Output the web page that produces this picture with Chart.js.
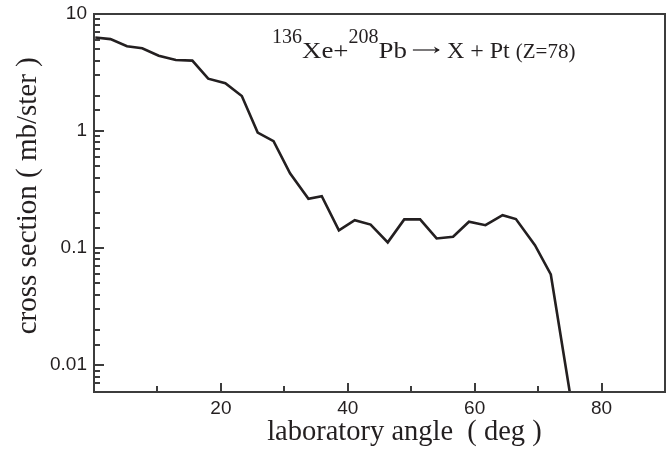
<!DOCTYPE html>
<html>
<head>
<meta charset="utf-8">
<script src="https://cdn.jsdelivr.net/npm/chart.js@4.4.1/dist/chart.umd.min.js"></script>
<style>
  html, body { margin: 0; padding: 0; background: #fff; }
  #wrap { width: 669px; height: 451px; position: relative; }
</style>
</head>
<body>
<div id="wrap"><canvas id="chart"></canvas></div>
<script>
// laboratory angle (deg)
const angles = [0.2, 2.6, 5.2, 7.6, 10.2, 12.9, 15.5, 18.0, 20.7, 23.3,
  25.8, 28.3, 30.9, 33.8, 35.9, 38.6, 41.1, 43.6, 46.3, 48.9,
  51.4, 54.0, 56.6, 59.1, 61.7, 64.4, 66.5, 69.5, 72.0, 75.2];
// cross section (mb/ster)
const crossSection = [6.3, 6.1, 5.3, 5.1, 4.4, 4.05, 4.0, 2.8, 2.56, 1.99,
  0.97, 0.82, 0.435, 0.264, 0.278, 0.142, 0.173, 0.159, 0.112, 0.176,
  0.176, 0.121, 0.125, 0.168, 0.157, 0.191, 0.177, 0.106, 0.0596, 0.005];

const xTickLabels = [20, 40, 60, 80];
const yTickLabels = [0.01, 0.1, 1, 10];

const TEXT_COLOR = '#231f20';
const FRAME_COLOR = '#3c3c3c';

const isMajorLog = v => Math.abs(Math.log10(v) - Math.round(Math.log10(v))) < 1e-6;

// 内向きの目盛りと枠を描く
const frameAndTicks = {
  id: 'frameAndTicks',
  afterDatasetsDraw(chart) {
    const { ctx, chartArea: a } = chart;
    const xs = chart.scales.x, ys = chart.scales.y;
    ctx.save();
    ctx.strokeStyle = FRAME_COLOR;
    ctx.lineWidth = 2;
    ctx.beginPath();
    xs.ticks.forEach(t => {
      if (t.value <= xs.min || t.value >= xs.max) return;
      const px = Math.round(xs.getPixelForValue(t.value));
      const len = xTickLabels.includes(t.value) ? 9 : 6;
      ctx.moveTo(px, a.bottom);
      ctx.lineTo(px, a.bottom - len);
    });
    ys.ticks.forEach(t => {
      if (t.value <= ys.min || t.value >= ys.max) return;
      const py = Math.round(ys.getPixelForValue(t.value));
      const len = isMajorLog(t.value) ? 10 : 6;
      ctx.moveTo(a.left, py);
      ctx.lineTo(a.left + len, py);
    });
    ctx.stroke();
    ctx.strokeRect(a.left, a.top, a.right - a.left, a.bottom - a.top);
    ctx.restore();
  }
};

// 反応式のラベル: [text, size, dy, x-scale]  ('->' は矢印を線で描く)
const reactionParts = [
  ['136', 20, -15.5, 1.0], ['Xe+', 24, 0, 1.12], ['208', 20, -15.5, 1.0],
  ['Pb', 24, 0, 1.12], ['->', 24, 0, 1.0], [' X + Pt ', 24, 0, 1.0], ['(Z=78)', 20, 0, 1.05]
];
const reactionLabel = {
  id: 'reactionLabel',
  afterDraw(chart) {
    const ctx = chart.ctx;
    ctx.save();
    ctx.fillStyle = TEXT_COLOR;
    ctx.strokeStyle = TEXT_COLOR;
    ctx.textBaseline = 'alphabetic';
    let x = 272;
    const base = 58;
    reactionParts.forEach(([t, size, dy, sx]) => {
      if (t === '->') {
        const x0 = x + 6, x1 = x + 33, ay = base - 8;
        ctx.lineWidth = 1.2;
        ctx.beginPath();
        ctx.moveTo(x0, ay);
        ctx.lineTo(x1 - 1, ay);
        ctx.stroke();
        ctx.beginPath();
        ctx.moveTo(x1, ay);
        ctx.lineTo(x1 - 6, ay - 3.5);
        ctx.lineTo(x1 - 4, ay);
        ctx.lineTo(x1 - 6, ay + 3.5);
        ctx.closePath();
        ctx.fill();
        x += 34;
        return;
      }
      ctx.font = size + 'px "Liberation Serif"';
      ctx.save();
      ctx.translate(x, base + dy);
      ctx.scale(sx, 1);
      ctx.fillText(t, 0, 0);
      ctx.restore();
      x += ctx.measureText(t).width * sx;
    });
    ctx.restore();
  }
};

const ctx = document.getElementById('chart').getContext('2d');
new Chart(ctx, {
  type: 'line',
  data: {
    datasets: [{
      data: angles.map((a, i) => ({ x: a, y: crossSection[i] })),
      borderColor: TEXT_COLOR,
      borderWidth: 2.6,
      pointRadius: 0,
      tension: 0,
      fill: false,
      clip: 0
    }]
  },
  options: {
    responsive: true,
    maintainAspectRatio: false,
    animation: false,
    layout: { padding: { top: 14, right: 4, left: 0, bottom: 0 } },
    plugins: { legend: { display: false }, tooltip: { enabled: false } },
    scales: {
      x: {
        type: 'linear',
        min: 0,
        max: 90,
        grid: { display: false, drawTicks: false },
        border: { display: false },
        ticks: {
          stepSize: 10,
          autoSkip: false,
          maxRotation: 0,
          padding: 5,
          color: TEXT_COLOR,
          font: { family: '"Liberation Sans"', size: 19 },
          callback: v => xTickLabels.includes(v) ? String(v) : ''
        },
        title: {
          display: true,
          text: '       laboratory angle  ( deg )',
          color: TEXT_COLOR,
          font: { family: '"Liberation Serif"', size: 28.5, lineHeight: 1.2 },
          padding: { top: 0, bottom: 1 }
        },
        afterFit: s => { s.height = 59; s.paddingLeft = 0; s.paddingRight = 0; }
      },
      y: {
        type: 'logarithmic',
        min: 0.0059,
        max: 10,
        grid: { display: false, drawTicks: false },
        border: { display: false },
        ticks: {
          autoSkip: false,
          padding: 7,
          color: TEXT_COLOR,
          font: { family: '"Liberation Sans"', size: 19 },
          callback: v => yTickLabels.some(l => Math.abs(l - v) < l * 1e-6) ? String(v) : ''
        },
        title: {
          display: true,
          text: '  cross section ( mb/ster )',
          color: TEXT_COLOR,
          font: { family: '"Liberation Serif"', size: 29, lineHeight: 1.2 },
          padding: { top: 10.5, bottom: 0 }
        },
        afterFit: s => { s.width = 94; s.paddingTop = 0; s.paddingBottom = 0; }
      }
    }
  },
  plugins: [frameAndTicks, reactionLabel]
});
</script>
</body>
</html>
